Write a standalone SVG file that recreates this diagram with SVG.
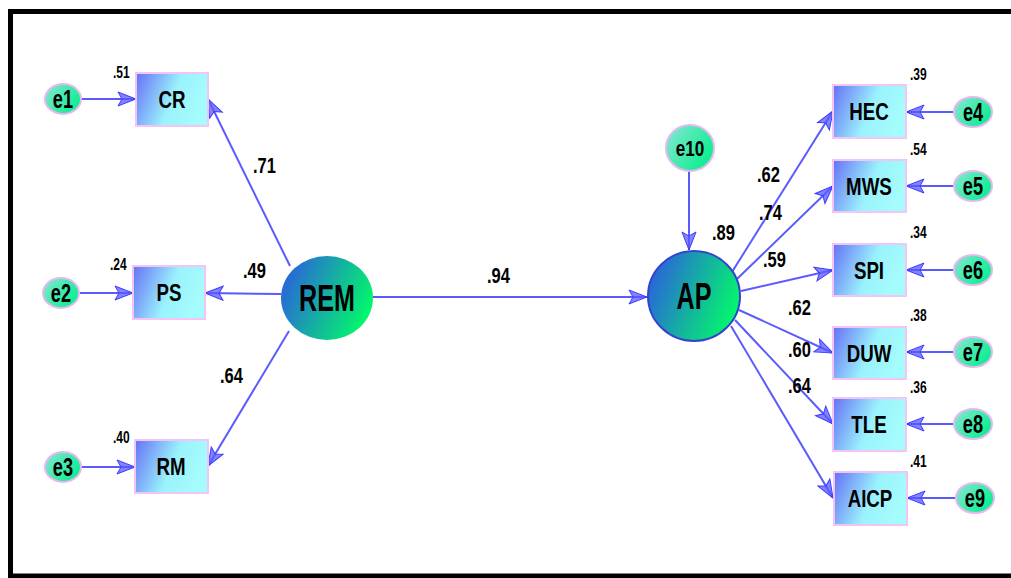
<svg xmlns="http://www.w3.org/2000/svg" width="1011" height="578" viewBox="0 0 1011 578">
<defs>
<linearGradient id="gRect" x1="0" y1="0" x2="1" y2="0.3">
<stop offset="0" stop-color="#6670f6"/><stop offset="0.6" stop-color="#9af2fd"/><stop offset="1" stop-color="#a4fcfc"/>
</linearGradient>
<linearGradient id="gErr" x1="0" y1="0.2" x2="1" y2="0.8">
<stop offset="0" stop-color="#7fe6cf"/><stop offset="1" stop-color="#00f08a"/>
</linearGradient>
<linearGradient id="gLat" x1="0" y1="0.3" x2="1" y2="0.7">
<stop offset="0" stop-color="#2a62dc"/><stop offset="1" stop-color="#00ff66"/>
</linearGradient>
<marker id="arr" markerUnits="userSpaceOnUse" markerWidth="22" markerHeight="16" refX="19" refY="8" orient="auto">
<path d="M1,1 L19,8 L1,15 L5,8 z" fill="#5a5aff" fill-opacity="0.75" stroke="#3c3cff" stroke-width="1"/>
</marker>
<style>
.ln{stroke:#5a5aff;stroke-width:2;fill:none;marker-end:url(#arr)}
.box{fill:url(#gRect);stroke:#f4c4f4;stroke-width:2}
.err{fill:url(#gErr);stroke:#e6b8f0;stroke-width:2}
.lat{fill:url(#gLat)}
.t{font-family:"Liberation Sans",Arial,sans-serif;font-weight:bold;fill:#000;text-anchor:middle;transform-box:fill-box;transform-origin:center;transform:scaleX(0.78)}
.nm{font-size:24px}
.en{font-size:26px;transform:scaleX(0.7)}
.lv{font-size:37px;transform:scaleX(0.68)}
.pl{font-family:"Liberation Sans",Arial,sans-serif;font-weight:bold;font-size:22px;fill:#000;transform-box:fill-box;transform-origin:left;transform:scaleX(0.75)}
.sm{font-family:"Liberation Sans",Arial,sans-serif;font-weight:bold;font-size:16px;fill:#000;transform-box:fill-box;transform-origin:left;transform:scaleX(0.75)}
</style>
</defs>
<rect x="0" y="0" width="1011" height="578" fill="#fff"/>
<path d="M1011,11.5 L10.5,11.5 L10.5,576 L1011,576" fill="none" stroke="#000" stroke-width="5"/>

<g id="connectors">
<line class="ln" x1="82" y1="99" x2="136" y2="99"/>
<line class="ln" x1="80" y1="293" x2="133" y2="293"/>
<line class="ln" x1="82" y1="467" x2="135" y2="467"/>
<line class="ln" x1="290" y1="266" x2="208" y2="99"/>
<line class="ln" x1="281" y1="294" x2="205" y2="293"/>
<line class="ln" x1="289" y1="331" x2="208" y2="466"/>
<line class="ln" x1="373" y1="297" x2="647" y2="297"/>
<line class="ln" x1="689" y1="171" x2="689" y2="250"/>
<line class="ln" x1="732" y1="272" x2="833" y2="111"/>
<line class="ln" x1="737" y1="279" x2="833" y2="186"/>
<line class="ln" x1="741" y1="291" x2="833" y2="270"/>
<line class="ln" x1="739" y1="310" x2="833" y2="353"/>
<line class="ln" x1="735" y1="320" x2="833" y2="424"/>
<line class="ln" x1="731" y1="326" x2="833" y2="498"/>
<line class="ln" x1="954" y1="112" x2="906" y2="112"/>
<line class="ln" x1="954" y1="186" x2="906" y2="186"/>
<line class="ln" x1="954" y1="270" x2="906" y2="270"/>
<line class="ln" x1="954" y1="352" x2="906" y2="352"/>
<line class="ln" x1="954" y1="424" x2="906" y2="424"/>
<line class="ln" x1="956" y1="498" x2="907" y2="498"/>
</g>

<g id="e1"><ellipse class="err" cx="63" cy="99" rx="18" ry="15"/><text class="t en" x="63" y="108">e1</text></g>
<g id="e2"><ellipse class="err" cx="61" cy="293" rx="18" ry="15"/><text class="t en" x="61" y="302">e2</text></g>
<g id="e3"><ellipse class="err" cx="63" cy="467" rx="18" ry="15"/><text class="t en" x="63" y="476">e3</text></g>
<g id="CR"><rect class="box" x="136" y="73" width="72" height="53"/><text class="t nm" x="172" y="108">CR</text><text class="sm" x="113" y="78">.51</text></g>
<g id="PS"><rect class="box" x="133" y="266" width="72" height="53"/><text class="t nm" x="169" y="301">PS</text><text class="sm" x="110" y="270">.24</text></g>
<g id="RM"><rect class="box" x="135" y="440" width="73" height="53"/><text class="t nm" x="171" y="475">RM</text><text class="sm" x="113" y="443">.40</text></g>
<g id="REM"><ellipse class="lat" cx="327" cy="298" rx="46" ry="42"/><text class="t lv" x="327" y="311">REM</text></g>
<g id="e10"><ellipse class="err" cx="690" cy="148" rx="24" ry="23"/><text class="t" style="font-size:22px" x="690" y="156">e10</text></g>
<g id="AP"><ellipse class="lat" cx="694" cy="296" rx="46" ry="45" stroke="#3344cc" stroke-width="2"/><text class="t lv" x="694" y="309">AP</text><text class="pl" x="712" y="240">.89</text></g>
<g id="HEC"><rect class="box" x="833" y="85" width="73" height="53"/><text class="t nm" x="869" y="120">HEC</text><text class="sm" x="910" y="80">.39</text></g>
<g id="MWS"><rect class="box" x="833" y="160" width="73" height="52"/><text class="t nm" x="869" y="195">MWS</text><text class="sm" x="910" y="155">.54</text></g>
<g id="SPI"><rect class="box" x="833" y="244" width="73" height="52"/><text class="t nm" x="869" y="279">SPI</text><text class="sm" x="910" y="238">.34</text></g>
<g id="DUW"><rect class="box" x="833" y="327" width="73" height="52"/><text class="t nm" x="869" y="362">DUW</text><text class="sm" x="910" y="321">.38</text></g>
<g id="TLE"><rect class="box" x="833" y="398" width="73" height="53"/><text class="t nm" x="869" y="433">TLE</text><text class="sm" x="910" y="393">.36</text></g>
<g id="AICP"><rect class="box" x="834" y="472" width="73" height="53"/><text class="t nm" x="870" y="507">AICP</text><text class="sm" x="910" y="467">.41</text></g>
<g id="e4"><ellipse class="err" cx="973" cy="112" rx="19" ry="15"/><text class="t en" x="973" y="121">e4</text></g>
<g id="e5"><ellipse class="err" cx="973" cy="186" rx="19" ry="15"/><text class="t en" x="973" y="195">e5</text></g>
<g id="e6"><ellipse class="err" cx="973" cy="270" rx="19" ry="15"/><text class="t en" x="973" y="279">e6</text></g>
<g id="e7"><ellipse class="err" cx="973" cy="352" rx="19" ry="15"/><text class="t en" x="973" y="361">e7</text></g>
<g id="e8"><ellipse class="err" cx="973" cy="424" rx="19" ry="15"/><text class="t en" x="973" y="433">e8</text></g>
<g id="e9"><ellipse class="err" cx="975" cy="498" rx="19" ry="15"/><text class="t en" x="975" y="507">e9</text></g>

<g id="labels">
<text class="pl" x="253" y="173">.71</text>
<text class="pl" x="243" y="278">.49</text>
<text class="pl" x="220" y="383">.64</text>
<text class="pl" x="487" y="283">.94</text>
<text class="pl" x="757" y="182">.62</text>
<text class="pl" x="759" y="220">.74</text>
<text class="pl" x="763" y="267">.59</text>
<text class="pl" x="788" y="315">.62</text>
<text class="pl" x="788" y="357">.60</text>
<text class="pl" x="788" y="393">.64</text>
</g>
</svg>
